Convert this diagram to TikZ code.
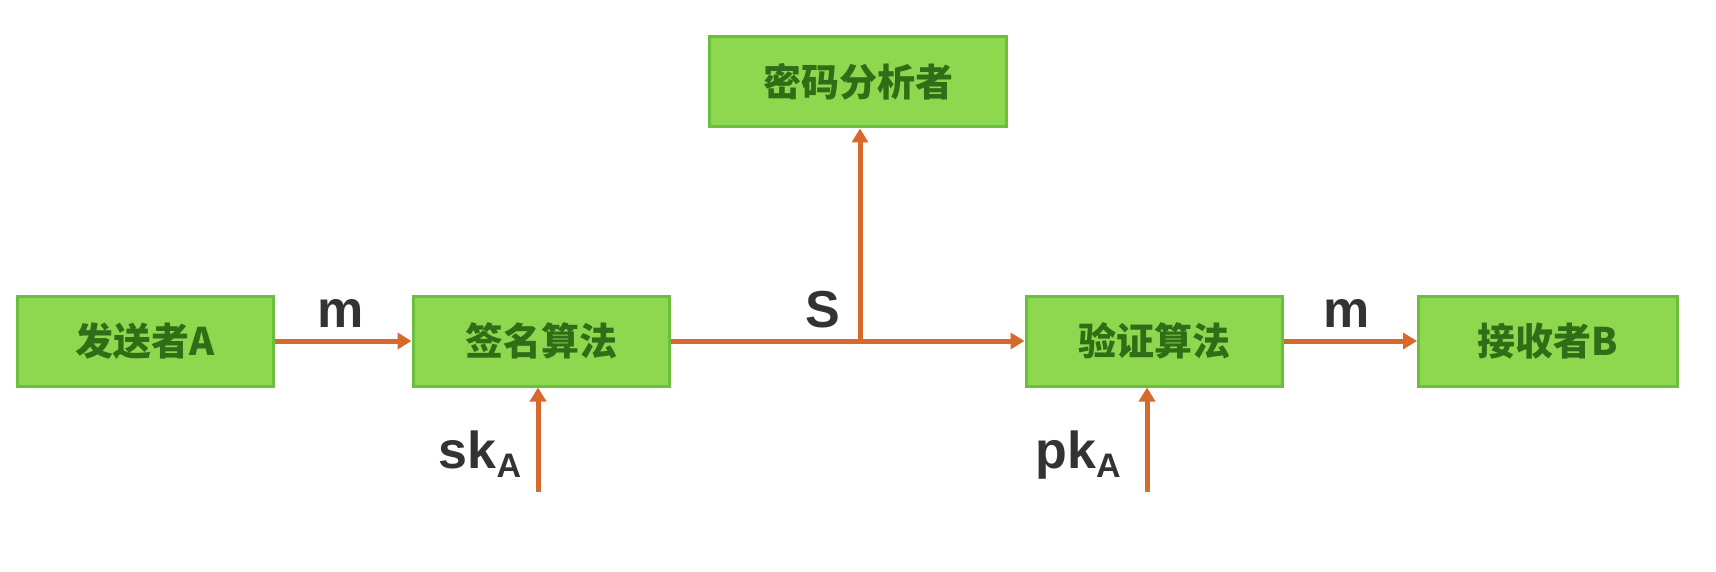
\documentclass[tikz,border=0pt]{standalone}
\usepackage{fontspec}
\setsansfont{Liberation Sans}
\newfontfamily\cjk{Noto Sans CJK SC}
\usetikzlibrary{arrows.meta}
\definecolor{boxfill}{HTML}{8DD84F}
\definecolor{boxline}{HTML}{6BBF3E}
\definecolor{boxtext}{HTML}{2F6E16}
\definecolor{arr}{HTML}{D8692C}
\definecolor{lbl}{HTML}{333333}
\tikzset{
  blk/.style={draw=boxline, line width=3pt, fill=boxfill, minimum width=256pt, minimum height=90pt,
    inner sep=0pt, font=\cjk\bfseries\fontsize{38}{40}\selectfont, text=boxtext},
  conn/.style={draw=arr, line width=5pt, -{Triangle[length=14pt,width=16pt]}},
  lab/.style={font=\sffamily\bfseries\fontsize{52}{56}\selectfont, text=lbl, inner sep=0pt}
}
\begin{document}
\begin{tikzpicture}[x=1pt,y=-1pt]
\useasboundingbox[fill=white] (0,0) rectangle (1716,572);
\node[blk] (a) at (145,341) {发送者A};
\node[blk] (sig) at (541,341) {签名算法};
\node[blk, minimum width=297pt] (ca) at (858,82) {密码分析者};
\node[blk] (ver) at (1154,341) {验证算法};
\node[blk, minimum width=259pt] (b) at (1548,341) {接收者B};
\coordinate (j) at (860,341);
\coordinate (sk) at (538,492);
\coordinate (pk) at (1147,492);
\draw[conn] (a) -- (sig);
\draw[draw=arr, line width=5pt] (sig.east) -- (j);
\draw[conn] (j) -- (ver);
\draw[conn] (j) -- (j |- ca.south);
\draw[conn] (ver) -- (b);
\draw[conn] (sk) -- (sk |- sig.south);
\draw[conn] (pk) -- (pk |- ver.south);
\node[lab, anchor=base] (m1) at (341,327) {m};
\node[lab, anchor=base] (s) at (823,327) {S};
\node[lab, anchor=base] (m2) at (1347,327) {m};
\node[lab, anchor=base] (skl) at (480,468) {sk\raisebox{-9pt}{\fontsize{34}{36}\selectfont A}};
\node[lab, anchor=base] (pkl) at (1078,468) {pk\raisebox{-9pt}{\fontsize{34}{36}\selectfont A}};
\end{tikzpicture}
\end{document}
